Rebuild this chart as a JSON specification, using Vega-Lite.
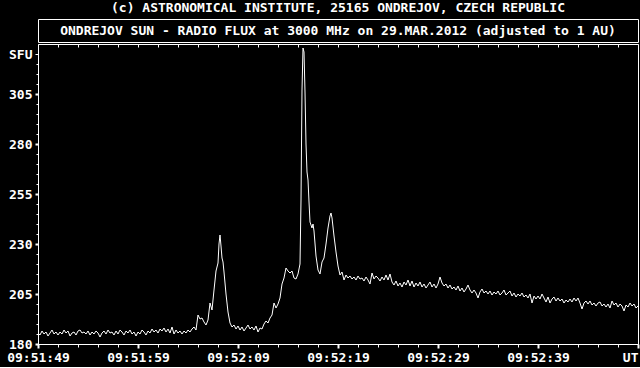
{
  "$schema": "https://vega.github.io/schema/vega-lite/v6.json",
  "background": "black",
  "padding": {"left": 6, "top": 1, "right": 2, "bottom": 2},
  "title": {"text": "(c) ASTRONOMICAL INSTITUTE, 25165 ONDREJOV, CZECH REPUBLIC", "anchor": "middle", "frame": "group", "font": "DejaVu Sans Mono", "fontSize": 13, "fontWeight": "bold", "color": "white", "offset": 4},
  "config": {
    "view": {"stroke": "white", "strokeWidth": 1},
    "axis": {"labelFont": "DejaVu Sans Mono", "labelFontSize": 13, "labelFontWeight": "bold", "labelColor": "white", "tickColor": "white", "domainColor": "white", "grid": false, "domain": false},
    "concat": {"spacing": 0}
  },
  "vconcat": [
    {
      "width": 600,
      "height": 23,
      "view": {"stroke": "white", "strokeWidth": 1, "fill": "black"},
      "data": {"values": [{"label": "ONDREJOV SUN - RADIO FLUX at 3000 MHz on 29.MAR.2012 (adjusted to 1 AU)"}]},
      "mark": {"type": "text", "font": "DejaVu Sans Mono", "fontSize": 13, "fontWeight": "bold", "color": "white"},
      "encoding": {"text": {"field": "label"}}
    },
    {
      "width": 600,
      "height": 300,
      "view": {"stroke": "white", "strokeWidth": 1, "fill": "black"},
      "data": {"values": [
        {"sec":0.0,"sfu":185.5},{"sec":0.2,"sfu":184.5},{"sec":0.4,"sfu":186.5},{"sec":0.6,"sfu":185},{"sec":0.8,"sfu":186},
        {"sec":1.0,"sfu":184},{"sec":1.2,"sfu":185.5},{"sec":1.4,"sfu":187},{"sec":1.6,"sfu":185},{"sec":1.8,"sfu":186},
        {"sec":2.0,"sfu":184.5},{"sec":2.2,"sfu":186},{"sec":2.4,"sfu":185},{"sec":2.6,"sfu":187},{"sec":2.8,"sfu":185.5},
        {"sec":3.0,"sfu":186.5},{"sec":3.2,"sfu":184},{"sec":3.4,"sfu":185.5},{"sec":3.6,"sfu":186},{"sec":3.8,"sfu":184.5},
        {"sec":4.0,"sfu":186.5},{"sec":4.2,"sfu":187},{"sec":4.4,"sfu":185.5},{"sec":4.6,"sfu":186},{"sec":4.8,"sfu":185},
        {"sec":5.0,"sfu":186.5},{"sec":5.2,"sfu":184.5},{"sec":5.4,"sfu":186},{"sec":5.6,"sfu":185},{"sec":5.8,"sfu":186.5},
        {"sec":6.0,"sfu":185.5},{"sec":6.2,"sfu":183.5},{"sec":6.4,"sfu":185.5},{"sec":6.6,"sfu":186.5},{"sec":6.8,"sfu":185},
        {"sec":7.0,"sfu":187},{"sec":7.2,"sfu":185.5},{"sec":7.4,"sfu":186},{"sec":7.6,"sfu":184.5},{"sec":7.8,"sfu":186.5},
        {"sec":8.0,"sfu":185},{"sec":8.2,"sfu":187},{"sec":8.4,"sfu":186},{"sec":8.6,"sfu":184.5},{"sec":8.8,"sfu":186.5},
        {"sec":9.0,"sfu":185.5},{"sec":9.2,"sfu":187},{"sec":9.4,"sfu":185},{"sec":9.6,"sfu":186},{"sec":9.8,"sfu":184},
        {"sec":10.0,"sfu":186},{"sec":10.2,"sfu":185},{"sec":10.4,"sfu":187},{"sec":10.6,"sfu":186},{"sec":10.8,"sfu":184.5},
        {"sec":11.0,"sfu":186.5},{"sec":11.2,"sfu":185.5},{"sec":11.4,"sfu":187.5},{"sec":11.6,"sfu":186},{"sec":11.8,"sfu":187},
        {"sec":12.0,"sfu":185.5},{"sec":12.2,"sfu":187.5},{"sec":12.4,"sfu":186.5},{"sec":12.6,"sfu":188},{"sec":12.8,"sfu":186},
        {"sec":13.0,"sfu":187.5},{"sec":13.2,"sfu":185.5},{"sec":13.4,"sfu":188.5},{"sec":13.6,"sfu":185},{"sec":13.8,"sfu":187},
        {"sec":14.0,"sfu":185.5},{"sec":14.2,"sfu":186.5},{"sec":14.4,"sfu":185},{"sec":14.6,"sfu":186.5},{"sec":14.8,"sfu":185.5},
        {"sec":15.0,"sfu":187},{"sec":15.2,"sfu":186},{"sec":15.4,"sfu":187.5},{"sec":15.6,"sfu":188.5},{"sec":15.8,"sfu":187},
        {"sec":16.0,"sfu":194.5},{"sec":16.2,"sfu":192.5},{"sec":16.4,"sfu":193},{"sec":16.6,"sfu":191},{"sec":16.8,"sfu":189.5},
        {"sec":17.0,"sfu":192},{"sec":17.2,"sfu":200.5},{"sec":17.4,"sfu":197},{"sec":17.6,"sfu":207},{"sec":17.8,"sfu":216.5},
        {"sec":18.0,"sfu":220.5},{"sec":18.1,"sfu":230},{"sec":18.2,"sfu":234.5},{"sec":18.3,"sfu":229},{"sec":18.4,"sfu":223},
        {"sec":18.5,"sfu":221},{"sec":18.6,"sfu":216},{"sec":18.8,"sfu":205},{"sec":19.0,"sfu":196},{"sec":19.2,"sfu":190.5},
        {"sec":19.4,"sfu":188.5},{"sec":19.6,"sfu":189.5},{"sec":19.8,"sfu":187.5},{"sec":20.0,"sfu":189},{"sec":20.2,"sfu":187},
        {"sec":20.4,"sfu":188.5},{"sec":20.6,"sfu":186.5},{"sec":20.8,"sfu":188},{"sec":21.0,"sfu":189.5},{"sec":21.2,"sfu":187.5},
        {"sec":21.4,"sfu":188.5},{"sec":21.6,"sfu":187},{"sec":21.8,"sfu":189},{"sec":22.0,"sfu":186},{"sec":22.2,"sfu":188},
        {"sec":22.4,"sfu":187.5},{"sec":22.6,"sfu":190},{"sec":22.8,"sfu":191.5},{"sec":23.0,"sfu":190.5},{"sec":23.2,"sfu":193},
        {"sec":23.4,"sfu":194.5},{"sec":23.6,"sfu":200.5},{"sec":23.8,"sfu":198},{"sec":24.0,"sfu":200},{"sec":24.2,"sfu":203},
        {"sec":24.4,"sfu":210},{"sec":24.6,"sfu":213},{"sec":24.8,"sfu":218},{"sec":25.0,"sfu":216.5},{"sec":25.2,"sfu":215.5},
        {"sec":25.4,"sfu":216.5},{"sec":25.6,"sfu":213},{"sec":25.8,"sfu":212.5},{"sec":26.0,"sfu":215},{"sec":26.1,"sfu":217.5},
        {"sec":26.2,"sfu":220},{"sec":26.3,"sfu":252},{"sec":26.4,"sfu":307},{"sec":26.5,"sfu":328},{"sec":26.6,"sfu":326},
        {"sec":26.7,"sfu":306},{"sec":26.8,"sfu":280},{"sec":26.9,"sfu":266},{"sec":27.0,"sfu":262},{"sec":27.1,"sfu":251},
        {"sec":27.2,"sfu":241},{"sec":27.4,"sfu":238},{"sec":27.5,"sfu":240},{"sec":27.6,"sfu":236.5},{"sec":27.8,"sfu":224},
        {"sec":28.0,"sfu":217},{"sec":28.2,"sfu":215},{"sec":28.4,"sfu":221},{"sec":28.6,"sfu":223},{"sec":28.8,"sfu":230},
        {"sec":29.0,"sfu":238},{"sec":29.2,"sfu":244},{"sec":29.3,"sfu":245.5},{"sec":29.4,"sfu":243},{"sec":29.6,"sfu":234},
        {"sec":29.8,"sfu":226},{"sec":30.0,"sfu":219},{"sec":30.2,"sfu":214.5},{"sec":30.4,"sfu":216},{"sec":30.6,"sfu":212},
        {"sec":30.8,"sfu":214.5},{"sec":31.0,"sfu":213},{"sec":31.2,"sfu":214},{"sec":31.4,"sfu":212.5},{"sec":31.6,"sfu":213.5},
        {"sec":31.8,"sfu":212},{"sec":32.0,"sfu":214},{"sec":32.2,"sfu":212.5},{"sec":32.4,"sfu":213},{"sec":32.6,"sfu":211.5},
        {"sec":32.8,"sfu":213.5},{"sec":33.0,"sfu":212},{"sec":33.2,"sfu":210},{"sec":33.4,"sfu":215.5},{"sec":33.6,"sfu":212.5},
        {"sec":33.8,"sfu":214},{"sec":34.0,"sfu":213},{"sec":34.2,"sfu":211.5},{"sec":34.4,"sfu":213.5},{"sec":34.6,"sfu":212},
        {"sec":34.8,"sfu":214.5},{"sec":35.0,"sfu":212},{"sec":35.2,"sfu":215},{"sec":35.4,"sfu":211},{"sec":35.6,"sfu":209.5},
        {"sec":35.8,"sfu":211.5},{"sec":36.0,"sfu":209},{"sec":36.2,"sfu":210.5},{"sec":36.4,"sfu":208.5},{"sec":36.6,"sfu":211},
        {"sec":36.8,"sfu":209.5},{"sec":37.0,"sfu":212},{"sec":37.2,"sfu":209},{"sec":37.4,"sfu":211.5},{"sec":37.6,"sfu":208.5},
        {"sec":37.8,"sfu":210.5},{"sec":38.0,"sfu":209},{"sec":38.2,"sfu":211},{"sec":38.4,"sfu":208.5},{"sec":38.6,"sfu":210},
        {"sec":38.8,"sfu":208},{"sec":39.0,"sfu":209.5},{"sec":39.2,"sfu":211},{"sec":39.4,"sfu":208.5},{"sec":39.6,"sfu":210},
        {"sec":39.8,"sfu":208},{"sec":40.0,"sfu":210},{"sec":40.2,"sfu":213.5},{"sec":40.4,"sfu":210.5},{"sec":40.6,"sfu":209},
        {"sec":40.8,"sfu":210},{"sec":41.0,"sfu":208},{"sec":41.2,"sfu":209.5},{"sec":41.4,"sfu":207.5},{"sec":41.6,"sfu":208.5},
        {"sec":41.8,"sfu":207},{"sec":42.0,"sfu":209},{"sec":42.2,"sfu":206.5},{"sec":42.4,"sfu":208},{"sec":42.6,"sfu":206},
        {"sec":42.8,"sfu":207.5},{"sec":43.0,"sfu":209.5},{"sec":43.2,"sfu":207},{"sec":43.4,"sfu":205.5},{"sec":43.6,"sfu":207},
        {"sec":43.8,"sfu":205.5},{"sec":44.0,"sfu":203},{"sec":44.2,"sfu":206},{"sec":44.4,"sfu":207.5},{"sec":44.6,"sfu":205.5},
        {"sec":44.8,"sfu":206.5},{"sec":45.0,"sfu":205},{"sec":45.2,"sfu":206.5},{"sec":45.4,"sfu":204.5},{"sec":45.6,"sfu":206},
        {"sec":45.8,"sfu":205},{"sec":46.0,"sfu":206.5},{"sec":46.2,"sfu":204.5},{"sec":46.4,"sfu":205.5},{"sec":46.6,"sfu":207},
        {"sec":46.8,"sfu":204.5},{"sec":47.0,"sfu":205.5},{"sec":47.2,"sfu":206.5},{"sec":47.4,"sfu":204},{"sec":47.6,"sfu":205.5},
        {"sec":47.8,"sfu":203.5},{"sec":48.0,"sfu":205},{"sec":48.2,"sfu":204},{"sec":48.4,"sfu":205.5},{"sec":48.6,"sfu":203.5},
        {"sec":48.8,"sfu":204.5},{"sec":49.0,"sfu":203},{"sec":49.2,"sfu":205},{"sec":49.4,"sfu":200.5},{"sec":49.6,"sfu":204},
        {"sec":49.8,"sfu":202.5},{"sec":50.0,"sfu":204},{"sec":50.2,"sfu":202.5},{"sec":50.4,"sfu":205},{"sec":50.6,"sfu":203},
        {"sec":50.8,"sfu":201},{"sec":51.0,"sfu":203.5},{"sec":51.2,"sfu":200.5},{"sec":51.4,"sfu":202.5},{"sec":51.6,"sfu":203.5},
        {"sec":51.8,"sfu":201.5},{"sec":52.0,"sfu":203},{"sec":52.2,"sfu":201.5},{"sec":52.4,"sfu":202.5},{"sec":52.6,"sfu":200.5},
        {"sec":52.8,"sfu":202},{"sec":53.0,"sfu":201},{"sec":53.2,"sfu":202.5},{"sec":53.4,"sfu":201},{"sec":53.6,"sfu":203},
        {"sec":53.8,"sfu":201.5},{"sec":54.0,"sfu":203},{"sec":54.2,"sfu":200.5},{"sec":54.4,"sfu":197.5},{"sec":54.6,"sfu":200.5},
        {"sec":54.8,"sfu":201.5},{"sec":55.0,"sfu":200},{"sec":55.2,"sfu":201.5},{"sec":55.4,"sfu":199.5},{"sec":55.6,"sfu":200.5},
        {"sec":55.8,"sfu":199},{"sec":56.0,"sfu":200.5},{"sec":56.2,"sfu":201},{"sec":56.4,"sfu":199},{"sec":56.6,"sfu":200},
        {"sec":56.8,"sfu":198.5},{"sec":57.0,"sfu":200},{"sec":57.2,"sfu":198},{"sec":57.4,"sfu":201.5},{"sec":57.6,"sfu":199.5},
        {"sec":57.8,"sfu":200.5},{"sec":58.0,"sfu":198.5},{"sec":58.2,"sfu":200},{"sec":58.4,"sfu":199},{"sec":58.6,"sfu":196.5},
        {"sec":58.8,"sfu":199.5},{"sec":59.0,"sfu":198.5},{"sec":59.2,"sfu":200.5},{"sec":59.4,"sfu":199},{"sec":59.6,"sfu":200},
        {"sec":59.8,"sfu":198},{"sec":60.0,"sfu":199}
      ]},
      "resolve": {"axis": {"x": "independent", "y": "independent"}},
      "layer": [
        {
          "mark": {"type": "line", "color": "white", "strokeWidth": 1, "clip": true},
          "encoding": {
            "x": {"field": "sec", "type": "quantitative", "title": null,
                  "scale": {"domain": [0, 60], "nice": false, "zero": false},
                  "axis": {"orient": "bottom", "values": [0, 10, 20, 30, 40, 50, 60], "labelFlush": false, "labelOverlap": false,
                           "labelExpr": "['09:51:49','09:51:59','09:52:09','09:52:19','09:52:29','09:52:39','UT'][round(datum.value / 10)]",
                           "labelAlign": {"condition": {"test": "datum.value >= 60", "value": "right"}, "value": "center"},
                           "tickSize": 4, "tickWidth": 2, "labelPadding": 3, "domain": true, "domainWidth": 1}},
            "y": {"field": "sfu", "type": "quantitative", "title": null,
                  "scale": {"domain": [180, 330], "nice": false, "zero": false},
                  "axis": {"orient": "left", "values": [180, 205, 230, 255, 280, 305, 325], "labelOverlap": false, "labelFlush": false,
                           "labelExpr": "datum.value == 325 ? 'SFU' : datum.label",
                           "tickSize": 3,
                           "tickWidth": {"condition": {"test": "datum.value == 325", "value": 1}, "value": 2},
                           "labelPadding": 3, "labelBaseline": "middle", "domain": true, "domainWidth": 1}}
          }
        },
        {
          "mark": {"type": "line", "strokeOpacity": 0},
          "encoding": {
            "x": {"field": "sec", "type": "quantitative", "title": null,
                  "axis": {"orient": "bottom", "values": [2,4,6,8,12,14,16,18,22,24,26,28,32,34,36,38,42,44,46,48,52,54,56,58], "labels": false, "tickSize": 3, "tickWidth": 1}},
            "y": {"field": "sfu", "type": "quantitative", "title": null,
                  "axis": {"orient": "left", "values": [185,190,195,200,210,215,220,225,235,240,245,250,260,265,270,275,285,290,295,300,310,315,320], "labels": false, "tickSize": 2, "tickWidth": 1}}
          }
        },
        {
          "mark": {"type": "line", "strokeOpacity": 0},
          "encoding": {
            "x": {"field": "sec", "type": "quantitative", "title": null,
                  "axis": {"orient": "top", "offset": -3, "values": [2,4,6,8,10,12,14,16,18,20,22,24,26,28,30,32,34,36,38,40,42,44,46,48,50,52,54,56,58], "labels": false, "tickSize": 3, "tickWidth": 1}},
            "y": {"field": "sfu", "type": "quantitative", "axis": {"orient": "right", "values": [], "labels": false, "ticks": false, "domain": true, "domainWidth": 1}}
          }
        }
      ]
    }
  ]
}
